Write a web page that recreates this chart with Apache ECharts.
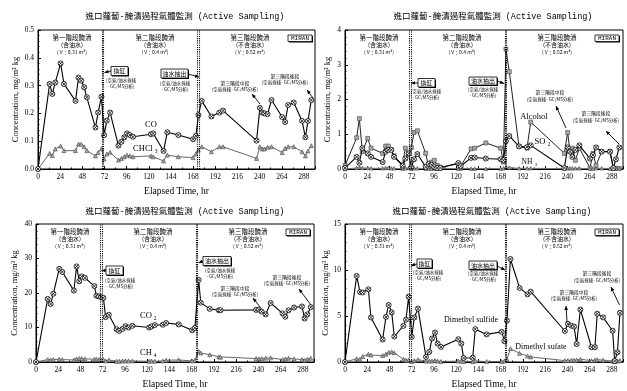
<!DOCTYPE html>
<html>
<head>
<meta charset="utf-8">
<script src="https://cdn.jsdelivr.net/npm/echarts/dist/echarts.min.js"></script>
<style>
html,body{margin:0;padding:0;background:#fff;}
#chart{width:627px;height:391px;}
</style>
</head>
<body>
<div id="chart"></div>
<script>
// ---- sampling times (hr) and MIRAN readings ----
const hoursA = [0, 12.6, 15.5, 18.7, 24.5, 28.1, 40.6, 43.9, 46.8, 50, 52.9, 62.2, 65.1, 68.7, 71.6, 74.5, 78.1, 87.1, 90.3, 93.5, 96.4, 99.6, 102.9, 122.3, 124.8, 136, 140, 152, 168, 171, 173.7, 177.3, 187.8, 196.4, 200.4, 236.7, 240.3, 242.8, 245.3, 248.6, 252.9, 264.4, 267.6, 270.9, 277, 286, 289.6, 292.4, 296];
const coValues = [0, 0.306, 0.27, 0.311, 0.38, 0.306, 0.245, 0.329, 0.318, 0.294, 0.258, 0.149, 0.203, 0.26, 0.122, 0.174, 0.203, 0.084, 0.098, 0.114, 0.128, 0.122, 0.116, 0.125, 0.128, 0.065, 0.132, 0.122, 0.107, 0.119, 0.194, 0.245, 0.189, 0.203, 0.21, 0.102, 0.22, 0.203, 0.2, 0.197, 0.248, 0.187, 0.169, 0.23, 0.239, 0.173, 0.114, 0.173, 0.248];
const chcl3Values = [0, 0.056, 0.048, 0.072, 0.083, 0.066, 0.066, 0.09, 0.089, 0.08, 0.066, 0.047, 0.059, 0.073, 0.036, 0.054, 0.06, 0.032, 0.038, 0.044, 0.05, 0.047, 0.044, 0.047, 0.044, 0.029, 0.05, 0.044, 0.041, 0.054, 0.068, 0.08, 0.062, 0.08, 0.08, 0.038, 0.08, 0.072, 0.072, 0.078, 0.08, 0.059, 0.074, 0.08, 0.08, 0.062, 0.047, 0.065, 0.084];

const hoursB = hoursA;
const alcoholValues = [0.1, 0.9, 1.45, 0.5, 0.88, 0.6, 0.45, 0.66, 0.66, 0.55, 0.38, 0.12, 0.6, 0.45, 0.62, 1.05, 1.1, 0.45, 0.05, 0.2, 0.25, 0.1, 0.05, 0.15, 0.08, 0.58, 0.6, 0.75, 0.6, 0.2, 3.45, 2.8, 0.65, 0.6, 1.35, 0.45, 1.05, 0.5, 0.6, 0.25, 0.6, 0.03, 0.45, 0.1, 0.5, 0.5, 0.02, 0.02, 0.02];
const so2Values = [0.03, 0.35, 0.18, 0.6, 0.45, 0.35, 0.2, 0.5, 0.55, 0.55, 0.35, 0.1, 0.3, 0.45, 0.05, 0.28, 0.43, 0.06, 0.15, 0.12, 0.05, 0.03, 0.03, 0.17, 0.08, 0.32, 0.33, 0.3, 0.28, 0.25, 0.8, 0.95, 0.65, 0.63, 0.68, 0.03, 0.62, 0.5, 0.35, 0.55, 0.68, 0.3, 0.4, 0.62, 0.5, 0.5, 0.03, 0.28, 0.62];
const nh3Values = [0, 0.03, 0.05, 0.03, 0.03, 0.02, 0.02, 0.03, 0.03, 0.02, 0.02, 0.01, 0.02, 0.03, 0.01, 0.02, 0.02, 0.01, 0.01, 0.01, 0.01, 0.01, 0.01, 0.01, 0.01, 0.01, 0.01, 0.01, 0.01, 0.02, 0.05, 0.04, 0.02, 0.02, 0.02, 0.01, 0.02, 0.02, 0.02, 0.02, 0.02, 0.01, 0.01, 0.02, 0.02, 0.01, 0.01, 0.01, 0.01];

const hoursC = [0, 12.6, 15.8, 18.7, 25.1, 28.4, 40.9, 43.8, 46.7, 49.2, 52.8, 63, 65.2, 67.9, 70.3, 72.7, 75.2, 78.6, 87, 89.8, 93.4, 96.6, 100, 104, 122.1, 124.6, 128.2, 136.8, 140.4, 154, 168.5, 171.5, 175.5, 177.8, 187.5, 197.3, 199.2, 237.5, 240.5, 243.5, 247.8, 253.2, 266, 269, 272.5, 278.5, 287, 289.9, 292.8, 296.5];
const co2Values = [0, 18.3, 16.8, 19.8, 27, 26.1, 20.7, 27.7, 23.4, 24.8, 24.4, 22, 19.2, 19, 18.8, 18.6, 13, 13.7, 9.5, 9, 9.6, 10.4, 10, 10.5, 10, 10.3, 10.7, 10.8, 11.3, 10.9, 9.2, 9.9, 23.8, 17.2, 15.4, 15, 15, 15.1, 15.2, 14.6, 13.8, 17.1, 14.1, 13.1, 15, 15.8, 16.1, 12.6, 13.8, 15.9];
const ch4Values = [0, 0.7, 0.6, 0.7, 0.8, 0.7, 0.6, 0.9, 1.0, 1.0, 0.9, 0.8, 0.8, 0.7, 0.6, 0.7, 0.3, 0.6, 0.2, 0.2, 0.3, 0.3, 0.3, 0.3, 0.2, 0.3, 0.2, 0.3, 0.5, 0.6, 0.3, 0.5, 3.1, 2.6, 2.1, 1.5, 1.4, 1.0, 0.9, 1.0, 1.1, 1.2, 0.7, 0.9, 1.1, 0.9, 0.7, 0.5, 0.8, 1.1];

const hoursD = [0, 12.6, 16.2, 19, 25.2, 28, 40.6, 44.2, 47.1, 50.4, 53.2, 63, 65.8, 68.7, 72, 74.8, 78.8, 87.4, 91, 93.9, 97.1, 100, 103.6, 122.3, 125.5, 128, 137.8, 140.6, 152.9, 169.1, 172, 174.8, 178.5, 188.4, 197, 200.4, 237.3, 240.6, 244.2, 247.2, 250, 254, 266, 269.7, 272.2, 278.5, 288.8, 291, 294, 296.7];
const dmsValues = [0, 9.36, 7.6, 7.55, 7.9, 4.84, 2.44, 4.9, 6.2, 5.4, 2.77, 3.93, 4.6, 7.1, 2.73, 4.84, 5.8, 0.55, 1.1, 2.55, 3.2, 2.0, 1.64, 2.48, 2.0, 0.44, 0.47, 3.57, 3.0, 3.28, 2.26, 4.5, 11.2, 8.05, 7.35, 7.65, 3.37, 4.15, 3.95, 3.85, 1.95, 5.7, 1.6, 1.6, 5.25, 4.85, 3.4, 0.1, 1.05, 5.35];
const dmSulfateValues = [0, 0.35, 0.3, 0.6, 0.85, 0.75, 0.7, 0.85, 1.05, 1.1, 1.0, 0.3, 0.2, 0.2, 0.05, 0.15, 0.25, 0.1, 0.1, 0.1, 0.15, 0.1, 0.05, 0.1, 0.1, 0.05, 0.05, 0.1, 0.05, 0.05, 0.1, 0.3, 1.45, 0.95, 0.65, 0.55, 0.15, 0.15, 0.2, 0.2, 0.2, 0.3, 0.15, 0.2, 0.25, 0.2, 0.1, 0.05, 0.1, 0.15];

// phase boundaries (tank change / brine drained), hr
const phaseBounds = [69.3, 71, 172.5, 174.5];
const xTicks = [0, 24, 48, 72, 96, 120, 144, 168, 192, 216, 240, 264, 288];
const yMax = [0.5, 4, 40, 15];
const yStep = [0.1, 1, 10, 5];

const titleText = '進口蘿蔔-醃漬過程氣體監測 (Active Sampling)';
const CJK = '"Noto Sans CJK TC"';
const MONO = '"Liberation Mono", "Noto Sans CJK TC"';
const SERIF = '"Liberation Serif", "Noto Sans CJK TC"';

const grids = [
  {left: 38, top: 30, width: 277, height: 139},
  {left: 345, top: 30, width: 278, height: 139},
  {left: 36, top: 224, width: 278, height: 138},
  {left: 345, top: 224, width: 278, height: 138}
];
const yNameGap = [18, 13, 17, 12];

const chart = echarts.init(document.getElementById('chart'), null, {renderer: 'canvas'});

const ringX = 'path://M10,0A10,10,0,1,1,-10,0A10,10,0,1,1,10,0ZM-7,-7L7,7M7,-7L-7,7';

function pairs(t, v) { return t.map((x, i) => [x, v[i]]); }

function blackSeries(name, gi, t, v, withBounds) {
  const s = {
    name, type: 'line', xAxisIndex: gi, yAxisIndex: gi,
    data: pairs(t, v), symbol: ringX, symbolSize: 5, symbolKeepAspect: true,
    lineStyle: {color: '#000', width: 1.1},
    itemStyle: {color: '#fff', borderColor: '#000', borderWidth: 0.8},
    z: 4, animation: false
  };
  if (withBounds) {
    s.markLine = {
      silent: true, symbol: 'none', label: {show: false}, animation: false,
      lineStyle: {color: '#000', type: 'dotted', width: 1.1},
      data: phaseBounds.map(x => ({xAxis: x}))
    };
  }
  return s;
}
function graySeries(name, gi, t, v, sym, size, lineColor) {
  return {
    name, type: 'line', xAxisIndex: gi, yAxisIndex: gi,
    data: pairs(t, v), symbol: sym, symbolSize: size,
    lineStyle: {color: lineColor, width: 1},
    itemStyle: {color: '#a8a8a8', borderColor: '#444', borderWidth: 0.6},
    z: 3, animation: false
  };
}

const series = [
  blackSeries('CO', 0, hoursA, coValues, true),
  graySeries('CHCl3', 0, hoursA, chcl3Values, 'triangle', 4, '#666'),
  graySeries('Alcohol', 1, hoursB, alcoholValues, 'rect', 4, '#222'),
  blackSeries('SO2', 1, hoursB, so2Values, true),
  graySeries('NH3', 1, hoursB, nh3Values, 'triangle', 3.5, '#777'),
  blackSeries('CO2', 2, hoursC, co2Values, true),
  graySeries('CH4', 2, hoursC, ch4Values, 'triangle', 4, '#666'),
  blackSeries('Dimethyl sulfide', 3, hoursD, dmsValues, true),
  graySeries('Dimethyl sulfate', 3, hoursD, dmSulfateValues, 'triangle', 4, '#666')
];

const xAxes = grids.map((g, i) => ({
  type: 'value', gridIndex: i, min: 0, max: 300, interval: 24,
  name: 'Elapsed Time, hr', nameLocation: 'middle', nameGap: 18,
  nameTextStyle: {fontFamily: SERIF, fontSize: 9.5, color: '#000'},
  axisLine: {lineStyle: {color: '#000', width: 1}},
  axisTick: {inside: true, length: 3, lineStyle: {color: '#000'}},
  minorTick: {show: true, splitNumber: 2, length: 1.5, lineStyle: {color: '#000'}},
  axisLabel: {
    fontFamily: SERIF, fontSize: 7.5, color: '#000', margin: 4,
    formatter: v => (xTicks.indexOf(v) >= 0 ? String(v) : '')
  },
  splitLine: {show: false}
}));

const yAxes = grids.map((g, i) => ({
  type: 'value', gridIndex: i, min: 0, max: yMax[i], interval: yStep[i],
  name: 'Concentration, mg/m³ kg', nameLocation: 'middle', nameGap: yNameGap[i],
  nameTextStyle: {fontFamily: SERIF, fontSize: 8.5, color: '#000'},
  axisLine: {show: true, lineStyle: {color: '#000', width: 1}},
  axisTick: {inside: true, length: 3, lineStyle: {color: '#000'}},
  minorTick: {show: true, splitNumber: 5, length: 1.5, lineStyle: {color: '#000'}},
  axisLabel: {
    fontFamily: SERIF, fontSize: 7.5, color: '#000', margin: 4,
    formatter: v => (i === 0 ? v.toFixed(1) : String(v))
  },
  splitLine: {show: false}
}));

const titles = [
  {left: 180, top: 7},
  {left: 488, top: 7},
  {left: 180, top: 202},
  {left: 487, top: 202}
].map(p => ({
  text: titleText, left: p.left, top: p.top, textAlign: 'center',
  textStyle: {fontFamily: MONO, fontSize: 8.5, fontWeight: 'normal', color: '#000'}
}));

// ---- annotation helpers (pixel space) ----
const G = [];
function txt(x, y, s, size, opt) {
  opt = opt || {};
  G.push({
    type: 'text', x: x, y: y, z: 20, silent: true,
    style: {
      text: s, fill: opt.color || '#000',
      font: (size) + 'px ' + (opt.family || CJK),
      align: opt.align || 'center', verticalAlign: 'middle',
      textAlign: opt.align || 'center', textVerticalAlign: 'middle'
    }
  });
}
function box(x1, y1, x2, y2) {
  // offset shadow, then the framed box
  G.push({type: 'rect', z: 18, silent: true,
    shape: {x: x1 + 1, y: y1 + 1, width: x2 - x1, height: y2 - y1},
    style: {fill: '#000'}});
  G.push({type: 'rect', z: 19, silent: true,
    shape: {x: x1, y: y1, width: x2 - x1, height: y2 - y1},
    style: {fill: '#ffffff', stroke: '#000', lineWidth: 0.8}});
}
function arrow(x1, y1, x2, y2) {
  G.push({type: 'line', z: 19, silent: true,
    shape: {x1: x1, y1: y1, x2: x2, y2: y2},
    style: {stroke: '#000', lineWidth: 0.9}});
  const a = Math.atan2(y2 - y1, x2 - x1), L = 4, W = 1.8;
  const bx = x2 - L * Math.cos(a), by = y2 - L * Math.sin(a);
  G.push({type: 'polygon', z: 19, silent: true,
    shape: {points: [[x2, y2],
      [bx + W * Math.sin(a), by - W * Math.cos(a)],
      [bx - W * Math.sin(a), by + W * Math.cos(a)]]},
    style: {fill: '#000'}});
}

const phaseText = [
  ['第一階段醃漬', '(含油水)', '( V：0.31 m³)'],
  ['第二階段醃漬', '(含油水)', '( V：0.4 m³)'],
  ['第三階段醃漬', '(不含油水)', '( V：0.52 m³)']
];
const phaseDx = [34, 117, 212];
const sampTxt1 = '(空氣/油水採樣';
const sampTxt2 = '- GC/MS分析)';
const airTxt = '(空氣採樣- GC/MS分析)';

grids.forEach(g => {
  phaseText.forEach((p, k) => {
    const cx = g.left + phaseDx[k];
    txt(cx, g.top + 7.5, p[0], 6.5);
    txt(cx, g.top + 14.3, p[1], 6);
    txt(cx, g.top + 21.7, p[2], 5);
  });
  box(g.left + 250, g.top + 5, g.left + 274, g.top + 11.5);
  txt(g.left + 262, g.top + 8.3, 'MIRAN', 6, {family: MONO});
});

// per-panel call-outs
const callouts = [
  {hk: [111, 66.5, 128, 75.5], hkA: [111, 71, 104.5, 72.5], hkS: [121, 80.5],
   ys: [161, 69, 188, 78], ysA: [188, 74, 199, 77], ysS: [175, 83],
   mid: [235, 83], midA: [260, 104, 252, 94], late: [285, 76], lateA: [313, 98, 307, 90]},
  {hk: [418, 78.5, 435, 87], hkA: [418, 83, 411, 83], hkS: [426, 91],
   ys: [469, 77, 497, 85], ysA: [497, 81, 504, 83.5], ysS: [483, 89.5],
   mid: [550, 92.5], midA: [566, 128, 556, 106], late: [596, 113.5], lateA: [619, 144, 606, 131]},
  {hk: [106, 266, 123, 275], hkA: [106, 270.5, 101.5, 270.5], hkS: [120, 280],
   ys: [203, 256.5, 231, 265.5], ysA: [203, 261, 198.5, 263], ysS: [220, 270],
   mid: [235, 288], midA: [260, 307, 253, 298], late: [287, 277], lateA: [311, 305, 299, 289]},
  {hk: [417, 259, 432, 268], hkA: [417, 264, 411, 265.5], hkS: [428, 272],
   ys: [469, 261, 497, 269.5], ysA: [497, 266, 505, 270], ysS: [483, 273.5],
   mid: [574, 292], midA: [567, 322, 566, 306], late: [597, 273.5], lateA: [619.5, 305, 611, 287]}
];
callouts.forEach(c => {
  box(c.hk[0], c.hk[1], c.hk[2], c.hk[3]);
  txt((c.hk[0] + c.hk[2]) / 2, (c.hk[1] + c.hk[3]) / 2, '換缸', 6);
  arrow(c.hkA[0], c.hkA[1], c.hkA[2], c.hkA[3]);
  txt(c.hkS[0], c.hkS[1], sampTxt1, 4.5);
  txt(c.hkS[0], c.hkS[1] + 6, sampTxt2, 4.5);
  box(c.ys[0], c.ys[1], c.ys[2], c.ys[3]);
  txt((c.ys[0] + c.ys[2]) / 2, (c.ys[1] + c.ys[3]) / 2, '油水抽出', 6);
  arrow(c.ysA[0], c.ysA[1], c.ysA[2], c.ysA[3]);
  txt(c.ysS[0], c.ysS[1], sampTxt1, 4.5);
  txt(c.ysS[0], c.ysS[1] + 6, sampTxt2, 4.5);
  txt(c.mid[0], c.mid[1], '第三階段中段', 4.8);
  txt(c.mid[0], c.mid[1] + 6.5, airTxt, 4.5);
  arrow(c.midA[0], c.midA[1], c.midA[2], c.midA[3]);
  txt(c.late[0], c.late[1], '第三階段後段', 4.8);
  txt(c.late[0], c.late[1] + 6.5, airTxt, 4.5);
  arrow(c.lateA[0], c.lateA[1], c.lateA[2], c.lateA[3]);
});

// series names written next to their curves
const lab = {family: SERIF};
txt(151, 125, 'CO', 8.5, lab);
txt(143, 149, 'CHCl', 8.5, lab); txt(156, 152, '3', 5.5, lab);
txt(534, 117, 'Alcohol', 8.5, lab);
txt(540, 142, 'SO', 8.5, lab); txt(549, 145, '2', 5.5, lab);
txt(527, 162, 'NH', 7.5, lab); txt(536, 165, '3', 5, lab);
txt(146, 316, 'CO', 8.5, lab); txt(155, 319, '2', 5.5, lab);
txt(146, 353, 'CH', 8.5, lab); txt(155, 356, '4', 5.5, lab);
txt(471, 320, 'Dimethyl sulfide', 8, lab);
txt(541, 347, 'Dimethyl sufate', 8, lab);

chart.setOption({
  animation: false,
  backgroundColor: '#fff',
  title: titles,
  grid: grids.map(g => Object.assign({show: true, borderColor: '#000', borderWidth: 1, backgroundColor: '#fff'}, g)),
  xAxis: xAxes,
  yAxis: yAxes,
  series: series,
  graphic: {elements: G}
});
</script>
</body>
</html>
